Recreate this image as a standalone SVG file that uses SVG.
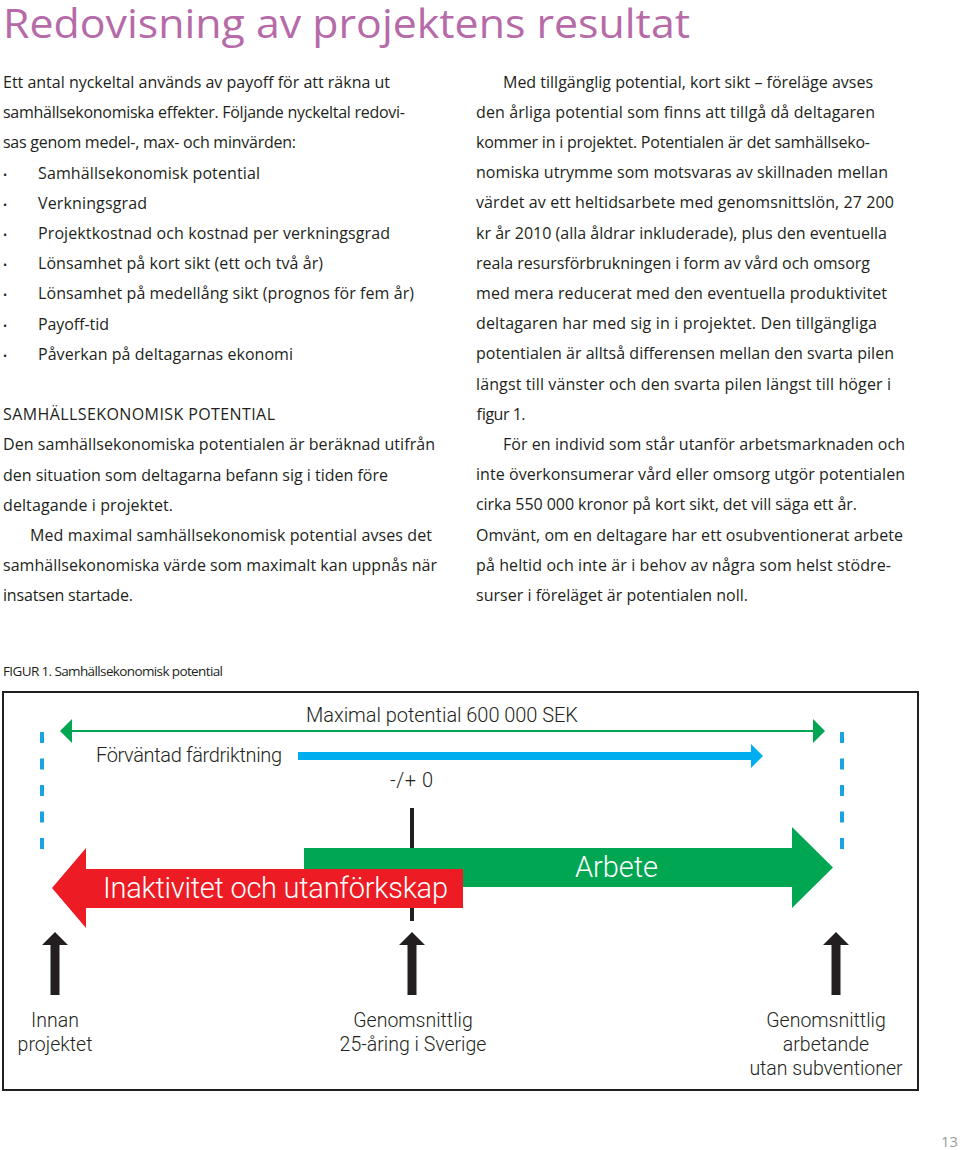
<svg xmlns="http://www.w3.org/2000/svg" width="960" height="1150" viewBox="0 0 960 1150">
<style>
.title{font-family:"Open Sans","Noto Sans",sans-serif;font-size:41px;fill:#b66aa8}
.body{font-family:"Open Sans","Noto Sans",sans-serif;font-size:16px;fill:#231f20}
.bul{font-family:"Open Sans","Noto Sans",sans-serif;font-size:11px;fill:#231f20}
.cap{font-family:"Open Sans","Noto Sans",sans-serif;font-size:13.5px;fill:#231f20}
.fig{font-family:Roboto,"Liberation Sans",Arial,sans-serif;font-weight:300;font-size:20px;fill:#231f20}
.figc{font-family:Roboto,"Liberation Sans",Arial,sans-serif;font-weight:300;font-size:19.5px;fill:#231f20;text-anchor:middle}
.big{font-family:Roboto,"Liberation Sans",Arial,sans-serif;font-weight:300;font-size:29px;fill:#ffffff}
.pg{font-family:"Open Sans","Noto Sans",sans-serif;font-size:15px;fill:#9a9a9a}
.dash{stroke:#1aa3e0;stroke-width:4;stroke-dasharray:11 15.5;fill:none}
.blk{fill:#231f20}
</style>

<g id="title"><text class="title" x="3" y="38" textLength="687" lengthAdjust="spacingAndGlyphs">Redovisning av projektens resultat</text></g>

<g id="left-column">
<text class="body" x="3" y="88" textLength="387" lengthAdjust="spacing">Ett antal nyckeltal används av payoff för att räkna ut</text>
<text class="body" x="3" y="118.2" textLength="402" lengthAdjust="spacing">samhällsekonomiska effekter. Följande nyckeltal redovi-</text>
<text class="body" x="3" y="148.4" textLength="293" lengthAdjust="spacing">sas genom medel-, max- och minvärden:</text>
<text class="bul" x="3" y="178.6">•</text><text class="body" x="38" y="178.6" textLength="222" lengthAdjust="spacing">Samhällsekonomisk potential</text>
<text class="bul" x="3" y="208.8">•</text><text class="body" x="38" y="208.8" textLength="109" lengthAdjust="spacing">Verkningsgrad</text>
<text class="bul" x="3" y="239">•</text><text class="body" x="38" y="239" textLength="352" lengthAdjust="spacing">Projektkostnad och kostnad per verkningsgrad</text>
<text class="bul" x="3" y="269.2">•</text><text class="body" x="38" y="269.2" textLength="285" lengthAdjust="spacing">Lönsamhet på kort sikt (ett och två år)</text>
<text class="bul" x="3" y="299.4">•</text><text class="body" x="38" y="299.4" textLength="376" lengthAdjust="spacing">Lönsamhet på medellång sikt (prognos för fem år)</text>
<text class="bul" x="3" y="329.6">•</text><text class="body" x="38" y="329.6" textLength="71" lengthAdjust="spacing">Payoff-tid</text>
<text class="bul" x="3" y="359.8">•</text><text class="body" x="38" y="359.8" textLength="255" lengthAdjust="spacing">Påverkan på deltagarnas ekonomi</text>
<text class="body" x="3" y="420.2" textLength="272" lengthAdjust="spacing">SAMHÄLLSEKONOMISK POTENTIAL</text>
<text class="body" x="3" y="450.4" textLength="432" lengthAdjust="spacing">Den samhällsekonomiska potentialen är beräknad utifrån</text>
<text class="body" x="3" y="480.6" textLength="385" lengthAdjust="spacing">den situation som deltagarna befann sig i tiden före</text>
<text class="body" x="3" y="510.8" textLength="170" lengthAdjust="spacing">deltagande i projektet.</text>
<text class="body" x="30" y="541" textLength="402" lengthAdjust="spacing">Med maximal samhällsekonomisk potential avses det</text>
<text class="body" x="3" y="571.2" textLength="434" lengthAdjust="spacing">samhällsekonomiska värde som maximalt kan uppnås när</text>
<text class="body" x="3" y="601.4" textLength="130" lengthAdjust="spacing">insatsen startade.</text>
</g>

<g id="right-column">
<text class="body" x="503" y="87.5" textLength="370" lengthAdjust="spacing">Med tillgänglig potential, kort sikt – föreläge avses</text>
<text class="body" x="476" y="117.7" textLength="399" lengthAdjust="spacing">den årliga potential som finns att tillgå då deltagaren</text>
<text class="body" x="476" y="147.9" textLength="394" lengthAdjust="spacing">kommer in i projektet. Potentialen är det samhällseko-</text>
<text class="body" x="476" y="178.1" textLength="412" lengthAdjust="spacing">nomiska utrymme som motsvaras av skillnaden mellan</text>
<text class="body" x="476" y="208.3" textLength="418" lengthAdjust="spacing">värdet av ett heltidsarbete med genomsnittslön, 27 200</text>
<text class="body" x="476" y="238.5" textLength="411" lengthAdjust="spacing">kr år 2010 (alla åldrar inkluderade), plus den eventuella</text>
<text class="body" x="476" y="268.7" textLength="394" lengthAdjust="spacing">reala resursförbrukningen i form av vård och omsorg</text>
<text class="body" x="476" y="298.9" textLength="411" lengthAdjust="spacing">med mera reducerat med den eventuella produktivitet</text>
<text class="body" x="476" y="329.1" textLength="401" lengthAdjust="spacing">deltagaren har med sig in i projektet. Den tillgängliga</text>
<text class="body" x="476" y="359.3" textLength="418" lengthAdjust="spacing">potentialen är alltså differensen mellan den svarta pilen</text>
<text class="body" x="476" y="389.5" textLength="415" lengthAdjust="spacing">längst till vänster och den svarta pilen längst till höger i</text>
<text class="body" x="476" y="419.7" textLength="49" lengthAdjust="spacing">figur 1.</text>
<text class="body" x="503" y="449.9" textLength="402" lengthAdjust="spacing">För en individ som står utanför arbetsmarknaden och</text>
<text class="body" x="476" y="480.1" textLength="429" lengthAdjust="spacing">inte överkonsumerar vård eller omsorg utgör potentialen</text>
<text class="body" x="476" y="510.3" textLength="381" lengthAdjust="spacing">cirka 550 000 kronor på kort sikt, det vill säga ett år.</text>
<text class="body" x="476" y="540.5" textLength="427" lengthAdjust="spacing">Omvänt, om en deltagare har ett osubventionerat arbete</text>
<text class="body" x="476" y="570.7" textLength="415" lengthAdjust="spacing">på heltid och inte är i behov av några som helst stödre-</text>
<text class="body" x="476" y="600.9" textLength="272" lengthAdjust="spacing">surser i föreläget är potentialen noll.</text>
</g>

<g id="figure-caption"><text class="cap" x="3" y="676" textLength="220" lengthAdjust="spacing">FIGUR 1. Samhällsekonomisk potential</text></g>

<g id="figure-frame"><rect x="3" y="692" width="915" height="398" fill="none" stroke="#231f20" stroke-width="2"/></g>

<g id="connectors">
<line class="dash" x1="42" y1="732" x2="42" y2="849"/>
<line class="dash" x1="842" y1="732" x2="842" y2="849"/>
<line x1="70" y1="731" x2="815" y2="731" stroke="#00a651" stroke-width="2"/>
<polygon points="60,731 72,719 72,743" fill="#00a651"/>
<polygon points="825,731 813,719 813,743" fill="#00a651"/>
<line x1="298" y1="756" x2="752" y2="756" stroke="#00aeef" stroke-width="8"/>
<polygon points="763,756 751,744 751,768" fill="#00aeef"/>
<line x1="412" y1="808" x2="412" y2="921" stroke="#231f20" stroke-width="4"/>
<polygon class="blk" points="55,932 68,945 59.5,945 59.5,995 50.5,995 50.5,945 42,945"/>
<polygon class="blk" points="412,932 425,945 416.5,945 416.5,995 407.5,995 407.5,945 399,945"/>
<polygon class="blk" points="836,932 849,945 840.5,945 840.5,995 831.5,995 831.5,945 823,945"/>
</g>

<g id="max-potential"><text class="fig" x="306" y="722" textLength="272" lengthAdjust="spacing">Maximal potential 600 000 SEK</text></g>
<g id="expected-direction"><text class="fig" x="96" y="762" textLength="186" lengthAdjust="spacing">Förväntad färdriktning</text></g>
<g id="zero"><text class="fig" x="390" y="787" textLength="43" lengthAdjust="spacing">-/+ 0</text></g>

<g id="arbete">
<polygon points="304,848 792,848 792,827 833,867.5 792,908 792,887 304,887" fill="#00a651"/>
<text class="big" x="575" y="877" textLength="83" lengthAdjust="spacing">Arbete</text>
</g>

<g id="inaktivitet">
<polygon points="463,869 463,908 86,908 86,928 52,888 86,848 86,869" fill="#ed1c24"/>
<text class="big" x="103" y="898" textLength="345" lengthAdjust="spacing">Inaktivitet och utanförkskap</text>
</g>

<g id="innan"><text class="figc" x="55" y="1027">Innan</text><text class="figc" x="55" y="1051">projektet</text></g>
<g id="genomsnitt-25"><text class="figc" x="413" y="1027">Genomsnittlig</text><text class="figc" x="413" y="1051">25-åring i Sverige</text></g>
<g id="genomsnitt-arbetande"><text class="figc" x="826" y="1027">Genomsnittlig</text><text class="figc" x="826" y="1051">arbetande</text><text class="figc" x="826" y="1075">utan subventioner</text></g>

<g id="page-number"><text class="pg" x="941" y="1147" textLength="17" lengthAdjust="spacingAndGlyphs">13</text></g>
</svg>
